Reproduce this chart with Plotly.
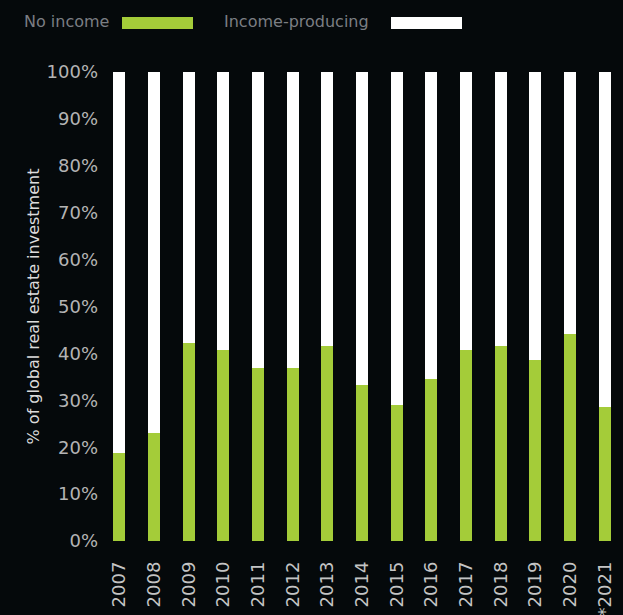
import plotly.graph_objects as go

# share of global real estate investment, %
years = ['2007', '2008', '2009', '2010', '2011', '2012', '2013', '2014',
         '2015', '2016', '2017', '2018', '2019', '2020', '*2021']
no_income = [18.8, 23.0, 42.2, 40.7, 36.9, 36.9, 41.6, 33.3,
             29.0, 34.5, 40.7, 41.6, 38.6, 44.1, 28.6]
income_producing = [round(100 - v, 1) for v in no_income]

COLOR = {"no": '#a4cc39', "inc": '#ffffff'}
BG = '#05090b'
FONT = 'DejaVu Sans'

fig = go.Figure()
fig.add_trace(go.Bar(x=years, y=no_income, name='No income',
                     marker=dict(color=COLOR["no"], line=dict(width=0))))
fig.add_trace(go.Bar(x=years, y=income_producing, name='Income-producing',
                     marker=dict(color=COLOR["inc"], line=dict(width=0))))

fig.update_layout(
    width=623, height=615,
    barmode='stack', bargap=0.65,
    paper_bgcolor=BG, plot_bgcolor=BG,
    margin=dict(l=102, r=1, t=72, b=74, autoexpand=False),
    showlegend=False,
    font=dict(family=FONT, size=16, color='#b8b8b8'),
    xaxis=dict(tickangle=-90, showgrid=False, zeroline=False, showline=False,
               ticks='', ticklabelstandoff=16,
               tickfont=dict(size=18, color='#c4c4c4')),
    yaxis=dict(range=[0, 100], dtick=10, ticksuffix='%', showgrid=False,
               zeroline=False, showline=False, ticks='', ticklabelstandoff=3,
               tickfont=dict(size=18, color='#b4b4b4'),
               title=dict(text='% of global real estate investment', standoff=2,
                          font=dict(size=16, color='#dcdcdc'))),
)

# legend drawn by hand: text first, swatch after it
leg = [('No income', COLOR["no"], 22, 122), ('Income-producing', COLOR["inc"], 222, 391)]
for text, col, tx, sx in leg:
    fig.add_annotation(text=text, xref='paper', yref='paper',
                       x=(tx - 102) / 520, y=1 + (72 - 22) / 469,
                       xanchor='left', yanchor='middle', showarrow=False,
                       font=dict(size=16, color='#7b7e83'))
    fig.add_shape(type='rect', xref='paper', yref='paper', line=dict(width=0),
                  fillcolor=col,
                  x0=(sx - 102) / 520, x1=(sx + 71 - 102) / 520,
                  y0=1 + (72 - 29) / 469, y1=1 + (72 - 17) / 469)

fig.write_html("out.html", config={'displayModeBar': False},
               post_script="document.body.style.margin='0';"
                           "document.body.style.background='%s';"
                           "document.body.style.overflow='hidden';" % BG)
